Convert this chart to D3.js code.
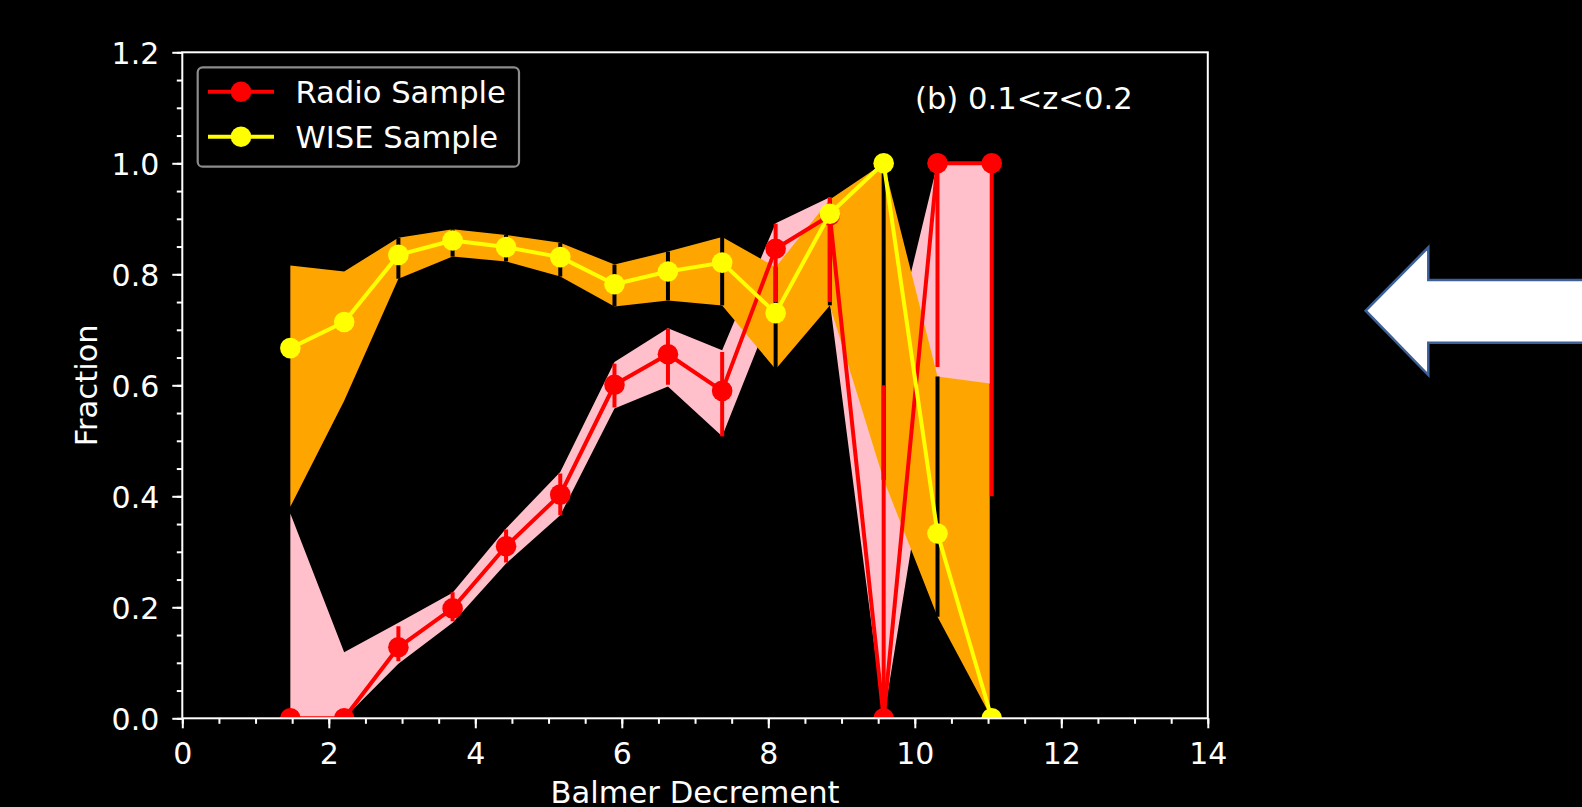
<!DOCTYPE html>
<html>
<head>
<meta charset="utf-8">
<script src="https://cdn.jsdelivr.net/npm/d3@7/dist/d3.min.js"></script>
<style>
  html, body { margin: 0; padding: 0; background: #000; }
  svg { display: block; }
  text { font-family: "DejaVu Sans", sans-serif; fill: #fff; }
</style>
</head>
<body>
<svg id="chart" width="1582" height="807"></svg>
<script>
// Balmer decrement bin centres
const balmer = [1.475, 2.21, 2.95, 3.69, 4.42, 5.16, 5.90, 6.63, 7.37, 8.10, 8.84, 9.575, 10.31, 11.05];

// Radio sample: fraction, shaded band and error bars
const radioFrac   = [0.0, 0.0, 0.128, 0.198, 0.310, 0.403, 0.601, 0.656, 0.590, 0.846, 0.906, 0.0, 1.0, 1.0];
const radioBandLo = [0.0, 0.0, 0.0985, 0.172, 0.279, 0.366, 0.558, 0.598, 0.508, 0.750, 0.750, 0.0, 0.600, 0.400];
const radioBandHi = [0.369, 0.119, 0.172, 0.226, 0.342, 0.444, 0.642, 0.703, 0.663, 0.892, 0.939, 0.600, 1.0, 1.0];
const radioErrLo  = [0.0, 0.0, 0.103, 0.175, 0.2805, 0.366, 0.560, 0.601, 0.508, 0.750, 0.750, 0.0, 0.633, 0.400];
const radioErrHi  = [0.0, 0.0, 0.166, 0.227, 0.340, 0.441, 0.639, 0.702, 0.660, 0.891, 0.939, 0.600, 1.0, 1.0];

// WISE sample: fraction, shaded band and error bars
const wiseFrac   = [0.667, 0.714, 0.835, 0.861, 0.849, 0.831, 0.782, 0.805, 0.821, 0.730, 0.909, 1.0, 0.333, 0.0];
const wiseBandLo = [0.381, 0.572, 0.792, 0.832, 0.823, 0.796, 0.742, 0.753, 0.744, 0.629, 0.744, 0.430, 0.183, 0.0];
const wiseBandHi = [0.816, 0.805, 0.866, 0.881, 0.871, 0.857, 0.8175, 0.841, 0.867, 0.813, 0.935, 1.0, 0.616, 0.603];
const wiseErrLo  = [0.667, 0.714, 0.792, 0.832, 0.823, 0.796, 0.742, 0.753, 0.744, 0.629, 0.744, 0.430, 0.183, 0.0];
const wiseErrHi  = [0.667, 0.714, 0.866, 0.881, 0.871, 0.857, 0.8175, 0.841, 0.867, 0.813, 0.935, 1.0, 0.616, 0.603];

const xTicks = [0, 2, 4, 6, 8, 10, 12, 14];
const yTicks = [0.0, 0.2, 0.4, 0.6, 0.8, 1.0, 1.2];
const seriesNames = ["Radio Sample", "WISE Sample"];
const panelLabel = "(b) 0.1<z<0.2";

(function drawChart() {
  const FONT = 30.6;
  const TICK_FONT = 30;
  const svg = d3.select("#chart");
  svg.append("rect").attr("width", 1582).attr("height", 807).attr("fill", "#000");

  const pLeft = 182.3, pRight = 1207.8, pTop = 52.3, pBottom = 718.3;
  const x = d3.scaleLinear().domain([0, 14]).range([pLeft, pRight]);
  const y = d3.scaleLinear().domain([0, 1.2]).range([pBottom, pTop]);

  svg.append("defs").append("clipPath").attr("id", "plot-clip")
    .append("rect").attr("x", pLeft).attr("y", pTop)
    .attr("width", pRight - pLeft).attr("height", pBottom - pTop);

  const plot = svg.append("g").attr("clip-path", "url(#plot-clip)");
  const idx = d3.range(balmer.length);

  const band = (lo, hi) => d3.area()
    .x(i => x(balmer[i])).y0(i => y(lo[i])).y1(i => y(hi[i]));
  const line = vals => d3.line().x(i => x(balmer[i])).y(i => y(vals[i]));

  // shaded uncertainty bands
  plot.append("path").datum(idx).attr("d", band(radioBandLo, radioBandHi)).attr("fill", "pink");
  plot.append("path").datum(idx).attr("d", band(wiseBandLo, wiseBandHi)).attr("fill", "orange");

  // error bars
  function errBars(lo, hi, color) {
    plot.append("g").selectAll("line").data(idx.filter(i => hi[i] > lo[i])).join("line")
      .attr("x1", i => x(balmer[i])).attr("x2", i => x(balmer[i]))
      .attr("y1", i => y(lo[i])).attr("y2", i => y(hi[i]))
      .attr("stroke", color).attr("stroke-width", 4);
  }
  errBars(wiseErrLo, wiseErrHi, "#000");
  errBars(radioErrLo, radioErrHi, "red");

  // series lines with markers
  function series(vals, color) {
    plot.append("path").datum(idx).attr("d", line(vals))
      .attr("fill", "none").attr("stroke", color).attr("stroke-width", 4)
      .attr("stroke-linejoin", "round");
    plot.append("g").selectAll("circle").data(idx).join("circle")
      .attr("cx", i => x(balmer[i])).attr("cy", i => y(vals[i]))
      .attr("r", 10.3).attr("fill", color);
  }
  series(radioFrac, "red");
  series(wiseFrac, "yellow");

  // axes
  function styleAxis(g) {
    g.select(".domain").remove();
    g.selectAll(".tick line").attr("stroke", "#fff").attr("stroke-width", 2);
    g.selectAll(".tick text").attr("fill", "#fff")
      .style("font-family", "DejaVu Sans").style("font-size", TICK_FONT + "px");
  }
  svg.append("g").attr("transform", `translate(0,${pBottom})`)
    .call(d3.axisBottom(x).tickValues(d3.range(0, 14.01, 0.5)).tickSize(5.5).tickFormat(""))
    .call(styleAxis);
  svg.append("g").attr("transform", `translate(0,${pBottom})`)
    .call(d3.axisBottom(x).tickValues(xTicks).tickSize(10).tickPadding(14).tickFormat(d3.format("d")))
    .call(styleAxis);
  svg.append("g").attr("transform", `translate(${pLeft},0)`)
    .call(d3.axisLeft(y).tickValues(d3.range(0, 1.2001, 0.05)).tickSize(5.5).tickFormat(""))
    .call(styleAxis);
  svg.append("g").attr("transform", `translate(${pLeft},0)`)
    .call(d3.axisLeft(y).tickValues(yTicks).tickSize(10).tickPadding(13).tickFormat(d3.format(".1f")))
    .call(styleAxis)
    .selectAll(".tick text").attr("dy", "0.36em");

  // frame
  svg.append("rect").attr("x", pLeft).attr("y", pTop)
    .attr("width", pRight - pLeft).attr("height", pBottom - pTop)
    .attr("fill", "none").attr("stroke", "#fff").attr("stroke-width", 2);

  // axis titles
  svg.append("text").attr("x", (pLeft + pRight) / 2).attr("y", 803)
    .attr("text-anchor", "middle").style("font-size", FONT + "px").text("Balmer Decrement");
  svg.append("text").attr("transform", `translate(97,${(pTop + pBottom) / 2}) rotate(-90)`)
    .attr("text-anchor", "middle").style("font-size", FONT + "px").text("Fraction");

  // panel label
  svg.append("text").attr("x", 915).attr("y", 108.5)
    .style("font-size", FONT + "px").text(panelLabel);

  // legend
  const legend = svg.append("g");
  legend.append("rect").attr("x", 197.7).attr("y", 67.3).attr("width", 321.3).attr("height", 99.4)
    .attr("rx", 5).attr("fill", "#000").attr("stroke", "#8c8c8c").attr("stroke-width", 2.2);
  const legendColors = ["red", "yellow"];
  seriesNames.forEach((name, k) => {
    const cy = 91.7 + k * 45;
    legend.append("line").attr("x1", 208).attr("x2", 274).attr("y1", cy).attr("y2", cy)
      .attr("stroke", legendColors[k]).attr("stroke-width", 4);
    legend.append("circle").attr("cx", 241).attr("cy", cy).attr("r", 10.3).attr("fill", legendColors[k]);
    legend.append("text").attr("x", 295.5).attr("y", cy + 11)
      .style("font-size", FONT + "px").text(name);
  });

  // pointer arrow on the right
  const arrowPts = [[1365.7, 310.7], [1428.3, 247.3], [1428.3, 280], [1590, 280],
                    [1590, 342.7], [1428.3, 342.7], [1428.3, 375]];
  svg.append("polygon").attr("points", arrowPts.map(p => p.join(",")).join(" "))
    .attr("fill", "#fff").attr("stroke", "#3d6096").attr("stroke-width", 2.5)
    .attr("stroke-linejoin", "miter");
})();
</script>
</body>
</html>
